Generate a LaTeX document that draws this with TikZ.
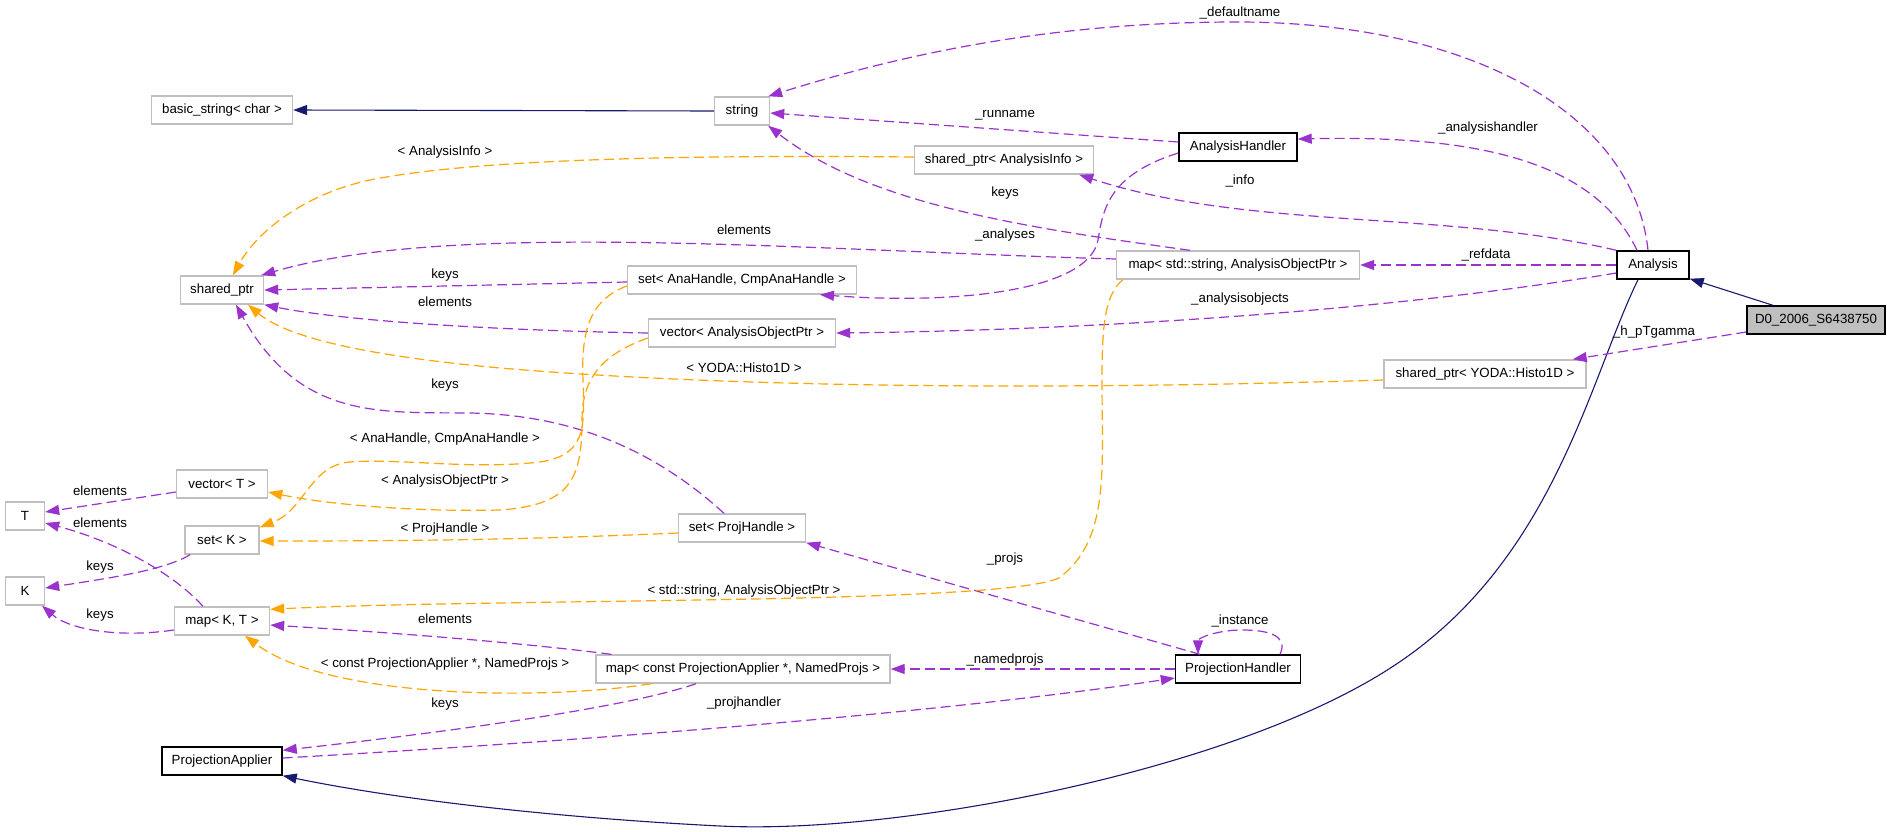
\documentclass[tikz,border=0pt]{standalone}
\usepackage{fontspec}
\setmainfont{Liberation Sans}
\usetikzlibrary{arrows.meta}
\definecolor{dxpurple}{HTML}{9A32CD}
\definecolor{dxorange}{HTML}{FFA500}
\definecolor{dxnavy}{HTML}{191970}
\definecolor{dxgray}{HTML}{BFBFBF}
\begin{document}
\begin{tikzpicture}[x=1pt,y=-1pt,
  every node/.style={font=\fontsize{13.3}{15}\selectfont},
  cls/.style={draw=dxgray, line width=1.4pt, minimum height=28pt, inner sep=0pt, fill=white},
  bcls/.style={draw=black, line width=1.4pt, minimum height=28pt, inner sep=0pt, fill=white},
  usage/.style={draw=dxpurple, line width=1.2pt, dash pattern=on 10pt off 5pt, -{Triangle[length=14pt,width=10pt]}},
  templ/.style={draw=dxorange, line width=1.2pt, dash pattern=on 10pt off 5pt, -{Triangle[length=14pt,width=10pt]}},
  inh/.style={draw=dxnavy, line width=1.1pt, -{Triangle[length=14pt,width=10pt]}},
  lbl/.style={inner sep=0pt}
]
\useasboundingbox[fill=white] (0,0) rectangle (1891,831);
% nodes
\node[cls, minimum width=141pt] (bs) at (222,110) {basic\_string< char >};
\node[cls, minimum width=55pt] (str) at (742,111) {string};
\node[bcls, minimum width=118pt] (ah) at (1238,147) {AnalysisHandler};
\node[cls, minimum width=179pt] (sai) at (1004,160) {shared\_ptr< AnalysisInfo >};
\node[bcls, minimum width=72pt] (an) at (1653,265) {Analysis};
\node[bcls, minimum width=138pt, fill=dxgray] (d0) at (1816,320) {D0\_2006\_S6438750};
\node[cls, minimum width=243pt] (mso) at (1238,265) {map< std::string, AnalysisObjectPtr >};
\node[cls, minimum width=202pt] (sph) at (1485,374) {shared\_ptr< YODA::Histo1D >};
\node[cls, minimum width=83pt] (sp) at (222,290) {shared\_ptr};
\node[cls, minimum width=229pt] (sah) at (742,280) {set< AnaHandle, CmpAnaHandle >};
\node[cls, minimum width=187pt] (vaop) at (742,333) {vector< AnalysisObjectPtr >};
\node[cls, minimum width=91pt] (vt) at (222,484) {vector< T >};
\node[cls, minimum width=39pt] (T) at (25,516) {T};
\node[cls, minimum width=74pt] (sk) at (222,540) {set< K >};
\node[cls, minimum width=39pt] (K) at (25,591) {K};
\node[cls, minimum width=95pt] (mkt) at (222,621) {map< K, T >};
\node[cls, minimum width=127pt] (sprh) at (742,528) {set< ProjHandle >};
\node[cls, minimum width=294pt] (mpa) at (743,669) {map< const ProjectionApplier *, NamedProjs >};
\node[bcls, minimum width=120pt] (pa) at (222,761) {ProjectionApplier};
\node[bcls, minimum width=125pt] (ph) at (1238,669) {ProjectionHandler};

% inheritance
\draw[inh] (str.west) -- (bs.east);
\draw[inh] ([xshift=-43pt]d0.north) -- ([yshift=1pt]an.south east);
\draw[inh] ([xshift=-15pt]an.south) .. controls (1589,380) and (1554,560) .. (1395,665)
   .. controls (1237,770) and (900,835) .. (720,826)
   .. controls (560,818) and (400,800) .. (pa.south east);

% usage edges
\draw[usage] ([xshift=-5pt]an.north) .. controls (1633,110) and (1465,22) .. (1237,22)
   .. controls (1049,22) and (900,55) .. ([xshift=-2pt]str.north east);
\node[lbl] (l1) at (1240,13) {\_defaultname};
\draw[usage] ([yshift=5pt]ah.west) -- ([yshift=-2pt]str.east);
\node[lbl] (l2) at (1005,115) {\_runname};
\draw[usage] ([xshift=-48pt]mso.north) .. controls (1028,228) and (870,205) .. ([xshift=-2pt]str.south east);
\node[lbl] (l3) at (1005,193) {keys};
\draw[usage] ([xshift=-16pt]an.north) .. controls (1594,160) and (1475,135) .. ([yshift=8pt]ah.east);
\node[lbl] (l4) at (1488,128) {\_analysishandler};
\draw[usage] (an.north west) .. controls (1445,210) and (1247,230) .. ([xshift=-15pt]sai.south east);
\node[lbl] (l5) at (1240,181) {\_info};
\draw[usage] ([yshift=-6pt]ah.west) .. controls (1108,175) and (1103,210) .. (1098,240)
   .. controls (1089,290) and (960,305) .. ([xshift=78pt]sah.south);
\node[lbl] (l6) at (1005,235) {\_analyses};
\draw[usage] ([yshift=6pt]mso.west) .. controls (800,250) and (450,220) .. ([xshift=-3pt]sp.north east);
\node[lbl] (l7) at (744,230) {elements};
\draw[usage] (an.west) -- (mso.east);
\node[lbl] (l8) at (1486,255) {\_refdata};
\draw[usage] ([yshift=-8pt]an.west) .. controls (1395,310) and (1098,330) .. (vaop.east);
\node[lbl] (l9) at (1240,299) {\_analysisobjects};
\draw[usage] ([yshift=-2pt]sah.west) -- (sp.east);
\node[lbl] (l10) at (445,275) {keys};
\draw[usage] (vaop.west) .. controls (480,330) and (340,320) .. (sp.south east);
\node[lbl] (l11) at (445,302) {elements};
\draw[usage] ([yshift=-12pt]d0.west) -- ([xshift=-14pt]sph.north east);
\node[lbl] (l12) at (1654,332) {\_h\_pTgamma};
\draw[usage] ([xshift=-18pt]sprh.north) .. controls (660,455) and (580,415) .. (470,413)
   .. controls (380,412) and (300,420) .. ([xshift=14pt]sp.south);
\node[lbl] (l13) at (445,385) {keys};
\draw[usage] ([yshift=-8pt]vt.west) -- ([yshift=4pt]T.east);
\node[lbl] (l14) at (100,491) {elements};
\draw[usage] ([xshift=-19pt]mkt.north) .. controls (170,570) and (110,540) .. ([yshift=-7pt]T.east);
\node[lbl] (l15) at (100,523) {elements};
\draw[usage] ([xshift=-32pt]sk.south) .. controls (165,570) and (110,578) .. ([yshift=3pt]K.east);
\node[lbl] (l16) at (100,567) {keys};
\draw[usage] ([yshift=-9pt]mkt.west) .. controls (120,638) and (70,630) .. ([xshift=17pt]K.south);
\node[lbl] (l17) at (100,615) {keys};
\draw[usage] ([xshift=16pt]mpa.north west) .. controls (500,640) and (350,630) .. ([yshift=-4pt]mkt.east);
\node[lbl] (l18) at (445,619) {elements};
\draw[usage] ([xshift=-47pt]mpa.south) .. controls (620,710) and (420,735) .. ([yshift=-4pt]pa.north east);
\node[lbl] (l19) at (445,704) {keys};
\draw[usage] (ph.west) -- (mpa.east);
\node[lbl] (l20) at (1005,660) {\_namedprojs};
\draw[usage] ([yshift=3pt]pa.east) .. controls (600,740) and (950,712) .. ([yshift=-9pt]ph.west);
\node[lbl] (l21) at (744,703) {\_projhandler};
\draw[usage] ([xshift=-38pt]ph.north) -- (sprh.south east);
\node[lbl] (l22) at (1005,559) {\_projs};
\draw[usage] ([xshift=42pt]ph.north) .. controls (1289,635) and (1267,630) .. (1242,630)
   .. controls (1217,630) and (1198,638) .. ([xshift=-40pt]ph.north);
\node[lbl] (l23) at (1240,621) {\_instance};

% template edges
\draw[templ] ([yshift=3pt]sai.west) .. controls (700,155) and (480,158) .. (370,180)
   .. controls (300,195) and (255,235) .. ([xshift=11pt]sp.north);
\node[lbl] (t1) at (445,152) {< AnalysisInfo >};
\draw[templ] ([yshift=-6pt]sph.west) .. controls (1000,392) and (700,385) .. (500,368)
   .. controls (380,357) and (290,340) .. ([xshift=26pt]sp.south);
\node[lbl] (t2) at (744,368) {< YODA::Histo1D >};
\draw[templ] ([xshift=7pt]mso.south west) .. controls (1104,295) and (1102,330) .. (1102,380)
   .. controls (1102,470) and (1110,540) .. (1059,578)
   .. controls (999,605) and (500,598) .. ([yshift=-3pt]mkt.north east);
\node[lbl] (t3) at (744,591) {< std::string, AnalysisObjectPtr >};
\draw[templ] ([yshift=-6pt]sah.west) .. controls (590,300) and (581,330) .. (583,380)
   .. controls (585,430) and (585,455) .. (540,462)
   .. controls (470,470) and (400,458) .. (350,462)
   .. controls (310,465) and (305,510) .. ([yshift=-2pt]sk.north east);
\node[lbl] (t4) at (445,439) {< AnaHandle, CmpAnaHandle >};
\draw[templ] ([yshift=-5pt]vaop.west) .. controls (600,355) and (582,380) .. (582,420)
   .. controls (582,480) and (570,505) .. (500,510)
   .. controls (420,512) and (330,505) .. ([yshift=-8pt]vt.east);
\node[lbl] (t5) at (445,481) {< AnalysisObjectPtr >};
\draw[templ] ([yshift=-5pt]sprh.west) .. controls (520,540) and (400,541) .. ([yshift=-1pt]sk.east);
\node[lbl] (t6) at (445,529) {< ProjHandle >};
\draw[templ] ([xshift=56pt]mpa.south west) .. controls (550,700) and (330,700) .. ([xshift=23pt]mkt.south);
\node[lbl] (t7) at (445,664) {< const ProjectionApplier *, NamedProjs >};
\end{tikzpicture}
\end{document}
